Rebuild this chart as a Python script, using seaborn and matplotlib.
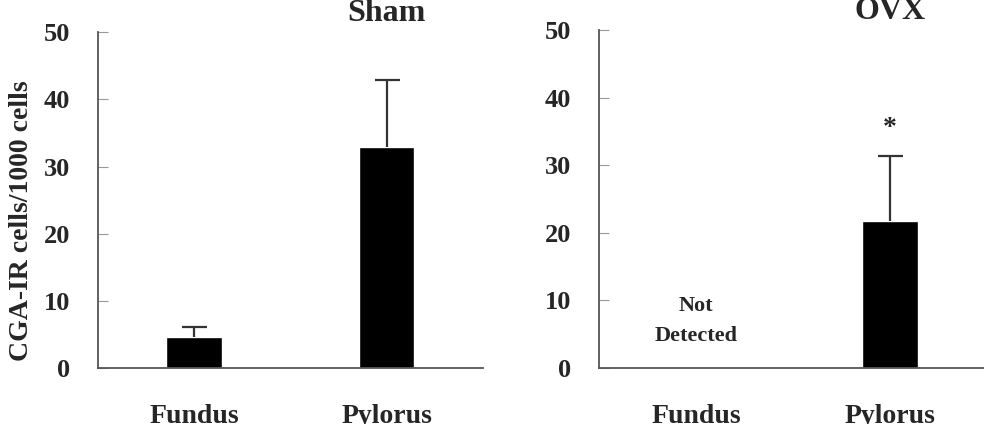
import pandas as pd
import matplotlib
matplotlib.use("Agg")
import matplotlib.pyplot as plt
import seaborn as sns

sns.set_theme(style="white")
plt.rcParams['font.family'] = ['Liberation Serif', 'DejaVu Serif']
plt.rcParams['font.weight'] = 'bold'

# Data
regions = ["Fundus", "Pylorus"]
sham_means = [4.6, 32.9]
sham_sem = [1.5, 10.0]
ovx_means = [0.0, 21.8]
ovx_sem = [0.0, 9.6]
yticks = [0, 10, 20, 30, 40, 50]

sham = pd.DataFrame({"region": regions, "value": sham_means, "err": sham_sem})
ovx = pd.DataFrame({"region": regions, "value": ovx_means, "err": ovx_sem})

fig = plt.figure(figsize=(9.84, 4.24), dpi=100)
ax1 = fig.add_axes([0.0996, 0.132, 0.391, 0.792])
ax2 = fig.add_axes([0.6087, 0.132, 0.394, 0.797])

spine_col = "#555555"

def draw_panel(ax, df, title):
    sns.barplot(data=df, x="region", y="value", color="black", width=0.29,
                errorbar=None, ax=ax, saturation=1)
    for i, row in df.iterrows():
        if row["value"] > 0:
            eb = ax.errorbar(i, row["value"], yerr=[[0], [row["err"]]], fmt="none",
                             ecolor="#333333", elinewidth=1.6, capsize=9, capthick=1.6)
            eb[1][0].set_visible(False)  # only the upper cap
    ax.set_ylim(0, 50)
    ax.set_xlim(-0.5, 1.5)
    ax.set_yticks(yticks)
    ax.set_xlabel("")
    ax.set_ylabel("")
    for s in ["top", "right"]:
        ax.spines[s].set_visible(False)
    for s in ["left", "bottom"]:
        ax.spines[s].set_color(spine_col)
        ax.spines[s].set_linewidth(1.3)
    ax.tick_params(axis="y", direction="in", length=7, width=0.8, color="#999999",
                   pad=20, labelsize=19, left=True)
    ax.tick_params(axis="x", length=0, pad=26, labelsize=20)
    ax.set_xticks([-0.5, 0.5, 1.5], minor=True)
    ax.tick_params(axis="x", which="minor", direction="in", length=5, color="#bbbbbb")
    for lab in ax.get_xticklabels() + ax.get_yticklabels():
        lab.set_fontweight("bold")
    ax.text(1, 51.6, title, ha="center", va="baseline", fontsize=23,
            fontweight="bold", clip_on=False)

draw_panel(ax1, sham, "Sham")
draw_panel(ax2, ovx, "OVX")

ax2.text(1, 35.4, "*", ha="center", va="center", fontsize=20, fontweight="bold")
ax2.text(0, 9.2, "Not", ha="center", va="center", fontsize=16, fontweight="bold")
ax2.text(0, 4.7, "Detected", ha="center", va="center", fontsize=16, fontweight="bold")

fig.text(0.022, 0.48, "CGA-IR cells/1000 cells", rotation=90, ha="center",
         va="center", fontsize=20, fontweight="bold")

fig.savefig("out.png", dpi=100)
